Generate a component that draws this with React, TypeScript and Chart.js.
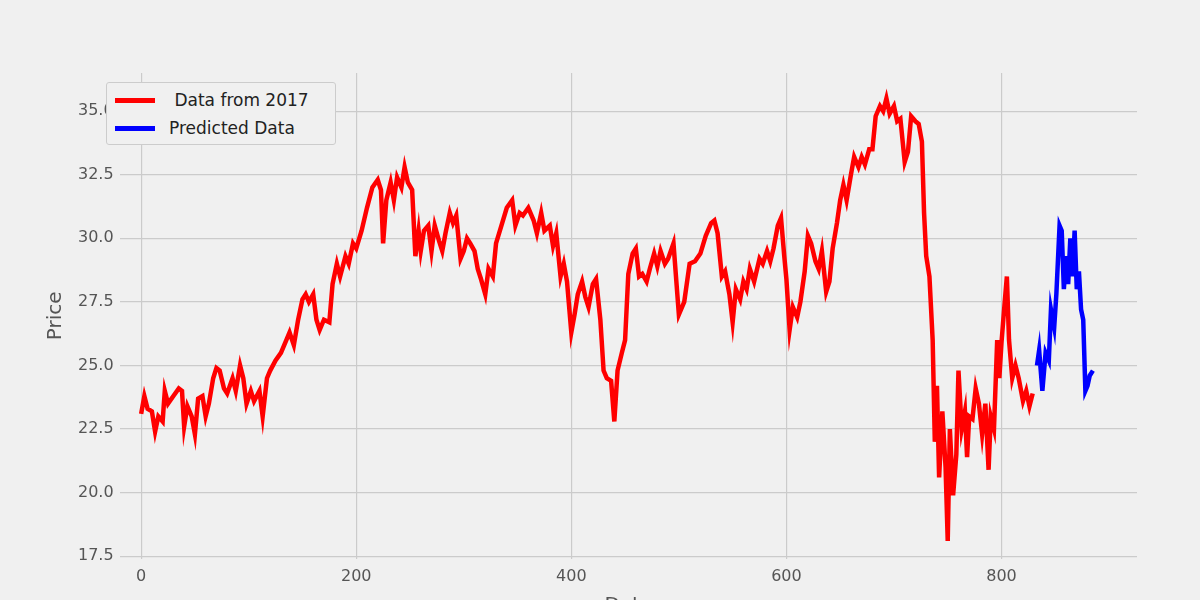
import React, { useEffect, useRef } from "react";
import { Chart, registerables } from "chart.js";

Chart.register(...registerables);

// Historical series (x = day index, y = price)
const histX = [0,3,6,10,13,16,20,22,25,30,35,38,40,43,47,50,53,57,60,63,67,70,73,77,80,85,88,92,95,98,102,105,110,113,117,120,125,130,135,138,142,146,150,153,156,160,163,166,170,175,178,182,185,190,193,197,200,205,210,215,220,223,225,228,232,235,238,242,245,248,252,255,258,260,263,267,270,273,277,280,283,287,290,293,297,300,303,306,310,313,316,320,323,327,330,335,340,345,348,352,355,360,365,368,372,375,380,383,386,390,393,396,400,403,406,410,413,416,420,423,427,430,433,437,440,443,447,450,453,457,460,463,466,470,473,477,480,483,487,490,495,500,505,510,515,520,525,530,533,536,540,543,547,550,553,557,560,563,566,570,575,578,582,585,588,592,595,598,600,603,606,610,613,617,620,623,627,630,633,637,640,643,647,650,653,656,660,663,667,670,673,677,680,683,687,690,693,696,700,703,706,710,713,716,720,723,726,728,730,733,736,738,740,742,745,748,750,752,755,758,760,763,766,768,770,773,776,779,782,785,788,790,793,796,798,800,803,805,807,810,813,816,820,823,826,829];
const histY = [23.1,23.8,23.3,23.2,22.4,23.0,22.8,24.0,23.5,23.8,24.1,24.0,22.6,23.4,23.0,22.3,23.7,23.8,23.0,23.5,24.5,24.9,24.8,24.1,23.9,24.5,24.0,25.0,24.5,23.5,24.0,23.6,24.0,23.0,24.5,24.8,25.2,25.5,26.0,26.3,25.8,26.8,27.6,27.8,27.5,27.8,26.8,26.4,26.8,26.7,28.2,29.0,28.5,29.3,29.0,29.8,29.6,30.3,31.2,32.0,32.3,31.9,29.8,31.5,32.2,31.5,32.4,32.0,32.8,32.2,31.9,29.3,30.3,29.5,30.3,30.5,29.5,30.5,29.9,29.5,30.2,31.0,30.6,30.9,29.2,29.5,30.0,29.8,29.5,28.8,28.4,27.8,28.8,28.5,29.8,30.5,31.2,31.5,30.5,31.0,30.9,31.2,30.7,30.2,31.0,30.3,30.5,29.7,30.2,28.5,29.0,28.3,26.3,27.0,27.8,28.3,27.7,27.3,28.2,28.4,26.8,24.8,24.5,24.4,22.8,24.8,25.5,26.0,28.6,29.4,29.6,28.5,28.6,28.3,28.8,29.4,28.9,29.5,29.0,29.2,29.8,27.0,27.5,29.0,29.1,29.4,30.1,30.6,30.7,30.2,28.5,28.7,27.8,26.7,28.0,27.6,28.3,28.0,28.8,28.3,29.2,29.0,29.5,29.1,29.6,30.5,30.8,29.3,28.4,26.4,27.3,26.9,27.5,28.7,30.1,29.8,29.1,28.8,29.5,27.9,28.3,29.6,30.6,31.5,32.1,31.5,32.5,33.2,32.8,33.2,32.9,33.5,33.5,34.8,35.2,35.0,35.5,34.9,35.2,34.6,34.7,33.0,33.4,34.8,34.6,34.5,33.8,31.0,29.3,28.5,26.0,22.0,24.2,20.6,23.2,21.0,18.1,22.5,19.9,21.5,24.8,22.5,23.2,21.4,23.0,22.9,24.1,23.5,22.3,23.5,20.9,23.0,22.5,26.0,24.5,25.9,27.5,28.5,26.0,24.5,25.0,24.5,23.6,24.0,23.4,23.9];

// Predicted series
const predX = [833,835,838,841,844,846,849,851,854,856,858,860,862,864,866,868,870,872,874,876,878,880,882,885];
const predY = [25.0,25.6,24.0,25.5,25.2,27.2,26.5,27.8,30.5,30.3,28.0,29.3,28.2,30.0,28.5,30.3,28.0,28.7,27.2,26.8,24.0,24.2,24.6,24.8];

const legendLabels = [" Data from 2017", "Predicted Data"];
const legendColors = ["#ff0000", "#0000ff"];

const FONT = "'DejaVu Sans', sans-serif";

export default function App() {
  const ref = useRef<HTMLCanvasElement>(null);

  useEffect(() => {
    document.body.style.margin = "0";
    if (!ref.current) return;
    const chart = new Chart(ref.current, {
      type: "line",
      data: {
        datasets: [
          {
            label: legendLabels[0],
            data: histX.map((x, i) => ({ x, y: histY[i] })),
            borderColor: legendColors[0],
            borderWidth: 4.5,
            pointRadius: 0,
            tension: 0,
          },
          {
            label: legendLabels[1],
            data: predX.map((x, i) => ({ x, y: predY[i] })),
            borderColor: legendColors[1],
            borderWidth: 4.5,
            pointRadius: 0,
            tension: 0,
          },
        ],
      },
      options: {
        animation: false,
        responsive: false,
        layout: { padding: { left: 40, top: 73, right: 63, bottom: 4 } },
        plugins: { legend: { display: false }, tooltip: { enabled: false } },
        scales: {
          x: {
            type: "linear",
            min: -20,
            max: 926,
            border: { display: false },
            grid: { color: "#cbcbcb", lineWidth: 1.2, drawTicks: false },
            afterBuildTicks: (axis) => {
              axis.ticks = [0, 200, 400, 600, 800].map((v) => ({ value: v }));
            },
            ticks: { color: "#555", font: { family: FONT, size: 16 }, padding: 8 },
            title: { display: true, text: "Date", color: "#555", font: { family: FONT, size: 20 }, padding: { top: 0 } },
          },
          y: {
            min: 17.4,
            max: 36.5,
            border: { display: false },
            grid: { color: "#cbcbcb", lineWidth: 1.2, drawTicks: false },
            afterBuildTicks: (axis) => {
              axis.ticks = [17.5, 20, 22.5, 25, 27.5, 30, 32.5, 35].map((v) => ({ value: v }));
            },
            ticks: {
              color: "#555",
              font: { family: FONT, size: 16 },
              padding: 6,
              callback: (v) => Number(v).toFixed(1),
            },
            title: { display: true, text: "Price", color: "#555", font: { family: FONT, size: 20 } },
          },
        },
      },
    });
    return () => chart.destroy();
  }, []);

  return (
    <div style={{ position: "relative", width: 1200, height: 600, overflow: "hidden", background: "#f0f0f0" }}>
      <canvas ref={ref} width={1200} height={626} style={{ display: "block" }} />
      <div
        style={{
          position: "absolute",
          left: 106,
          top: 82,
          width: 230,
          height: 63,
          border: "1px solid #cccccc",
          borderRadius: 3,
          background: "#f0f0f0",
          fontFamily: FONT,
          fontSize: 17,
          color: "#222",
          boxSizing: "border-box",
          padding: "3px 0 0 8px",
        }}
      >
        {legendLabels.map((l, i) => (
          <div key={l} style={{ display: "flex", alignItems: "center", height: 28, whiteSpace: "pre" }}>
            <span style={{ display: "inline-block", width: 40, height: 5, background: legendColors[i], marginRight: 14 }} />
            {l}
          </div>
        ))}
      </div>
    </div>
  );
}
